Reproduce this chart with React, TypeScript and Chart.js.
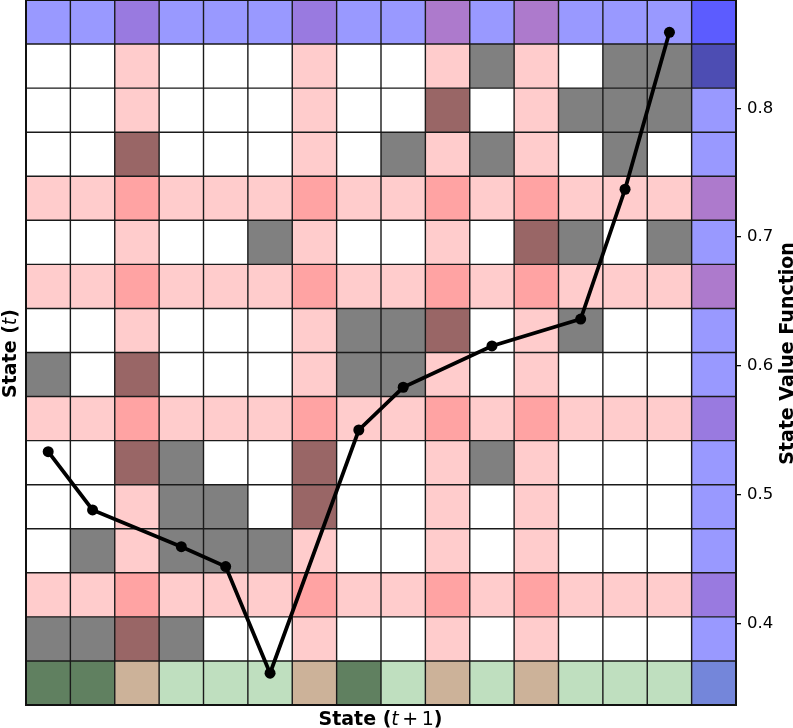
import React, { useEffect, useRef } from "react";
import { Chart, registerables } from "chart.js";

Chart.register(...registerables);

// ---- data ----
const stateIndices = [0, 1, 2, 3, 4, 5, 6, 7, 8, 9, 10, 11, 12, 13, 14, 15];

// cell codes per row (top row first), one char per column
const cellRows = [
  "LLULLLULLMLMLLLV",
  "WWPWWWPWWPGPWGGN",
  "WWPWWWPWWBWPGGGL",
  "WWBWWWPWGPGPWGWL",
  "PPDPPPDPPDPDPPPM",
  "WWPWWGPWWPWBGWGL",
  "PPDPPPDPPDPDPPPM",
  "WWPWWWPGGBWPGWWL",
  "GWBWWWPGGPWPWWWL",
  "PPDPPPDPPDPDPPPU",
  "WWBGWWBWWPGPWWWL",
  "WWPGGWBWWPWPWWWL",
  "WGPGGGPWWPWPWWWL",
  "PPDPPPDPPDPDPPPU",
  "GGBGWWPWWPWPWWWL",
  "kkTgggTkgTgTgggC",
];

const cellPalette: Record<string, string> = {
  W: "#ffffff",
  P: "#ffcccc",
  D: "#ffa3a3",
  G: "#808080",
  B: "#996666",
  L: "#9999ff",
  V: "#5c5cff",
  N: "#4d4db3",
  U: "#997ae0",
  M: "#ad7acc",
  g: "#bfdfbf",
  k: "#608060",
  T: "#ccb299",
  C: "#7486da",
};

const valueStates = [0, 1, 3, 4, 5, 7, 8, 10, 12, 13, 14];
const stateValues = [0.5333, 0.488, 0.4595, 0.444, 0.3612, 0.5501, 0.5833, 0.6154, 0.6363, 0.7371, 0.859];

const valueTicks = [0.4, 0.5, 0.6, 0.7, 0.8];
const valueAxisMin = 0.3365;
const valueAxisMax = 0.8841;

const xLabelSegments = [
  { text: "State (", font: "bold 19px 'DejaVu Sans'", gap: 0 },
  { text: "t", font: "italic 19px 'DejaVu Sans'", gap: 0 },
  { text: "+", font: "19px 'DejaVu Sans'", gap: 3.5 },
  { text: "1", font: "19px 'DejaVu Sans'", gap: 3.5 },
  { text: ")", font: "bold 19px 'DejaVu Sans'", gap: 0 },
];
const yLabelSegments = [
  { text: "State (", font: "bold 19px 'DejaVu Sans'", gap: 0 },
  { text: "t", font: "italic 19px 'DejaVu Sans'", gap: 0 },
  { text: ")", font: "bold 19px 'DejaVu Sans'", gap: 0 },
];
const y2LabelSegments = [
  { text: "State Value Function", font: "bold 19px 'DejaVu Sans'", gap: 0 },
];

type Seg = { text: string; font: string; gap: number };

function drawSegments(ctx: CanvasRenderingContext2D, segs: Seg[], cx: number, baseline: number, rotated: boolean) {
  ctx.save();
  let total = 0;
  const widths = segs.map((s) => {
    ctx.font = s.font;
    const w = ctx.measureText(s.text).width;
    total += w + s.gap;
    return w;
  });
  if (rotated) {
    ctx.translate(baseline, cx);
    ctx.rotate(-Math.PI / 2);
  } else {
    ctx.translate(cx, baseline);
  }
  ctx.fillStyle = "#000";
  ctx.textBaseline = "alphabetic";
  ctx.textAlign = "left";
  let x = -total / 2;
  segs.forEach((s, i) => {
    x += s.gap;
    ctx.font = s.font;
    ctx.fillText(s.text, x, 0);
    x += widths[i];
  });
  ctx.restore();
}

const heatmapPlugin = {
  id: "heatmapCells",
  beforeDatasetsDraw(chart: any) {
    const { ctx, chartArea, scales } = chart;
    const xs = scales.x;
    const ys = scales.y;
    ctx.save();
    cellRows.forEach((row, r) => {
      stateIndices.forEach((c) => {
        const x0 = xs.getPixelForValue(c - 0.5);
        const x1 = xs.getPixelForValue(c + 0.5);
        const y0 = ys.getPixelForValue(r - 0.5);
        const y1 = ys.getPixelForValue(r + 0.5);
        ctx.fillStyle = cellPalette[row[c]];
        ctx.fillRect(Math.min(x0, x1), Math.min(y0, y1), Math.abs(x1 - x0), Math.abs(y1 - y0));
      });
    });
    ctx.strokeStyle = "#1a1a1a";
    ctx.lineWidth = 1.4;
    ctx.beginPath();
    stateIndices.slice(1).forEach((c) => {
      const x = xs.getPixelForValue(c - 0.5);
      ctx.moveTo(x, chartArea.top);
      ctx.lineTo(x, chartArea.bottom);
    });
    cellRows.slice(1).forEach((_, i) => {
      const y = ys.getPixelForValue(i + 0.5);
      ctx.moveTo(chartArea.left, y);
      ctx.lineTo(chartArea.right, y);
    });
    ctx.stroke();
    ctx.strokeStyle = "#111";
    ctx.lineWidth = 2;
    ctx.strokeRect(chartArea.left, chartArea.top, chartArea.right - chartArea.left, chartArea.bottom - chartArea.top);
    ctx.restore();
  },
  afterDraw(chart: any) {
    const { ctx, chartArea } = chart;
    const midX = (chartArea.left + chartArea.right) / 2;
    const midY = (chartArea.top + chartArea.bottom) / 2;
    drawSegments(ctx, xLabelSegments, midX - 0.5, 725, false);
    drawSegments(ctx, yLabelSegments, midY + 1, 15.5, true);
    drawSegments(ctx, y2LabelSegments, midY + 1, 792.5, true);
  },
};

export default function App() {
  const ref = useRef<HTMLCanvasElement>(null);
  useEffect(() => {
    if (!ref.current) return;
    const chart = new Chart(ref.current, {
      type: "line",
      data: {
        datasets: [
          {
            data: valueStates.map((s, i) => ({ x: s, y: stateValues[i] })),
            borderColor: "#000",
            backgroundColor: "#000",
            borderWidth: 3.8,
            pointRadius: 5.5,
            pointBackgroundColor: "#000",
            pointBorderWidth: 0,
            tension: 0,
            xAxisID: "x",
            yAxisID: "y2",
            clip: false as any,
          },
        ],
      },
      options: {
        responsive: false,
        animation: false,
        devicePixelRatio: 1,
        layout: { autoPadding: false, padding: { left: 26, top: 0, bottom: 23, right: 0 } },
        plugins: { legend: { display: false }, tooltip: { enabled: false } },
        scales: {
          x: { type: "linear", display: false, min: -0.5, max: 15.5 },
          y: { type: "linear", display: false, min: -0.5, max: 15.5, reverse: true, position: "left" },
          y2: {
            type: "linear",
            position: "right",
            min: valueAxisMin,
            max: valueAxisMax,
            border: { display: false },
            grid: { drawOnChartArea: false, drawTicks: true, tickLength: 5, color: "#000", lineWidth: 1.3 },
            ticks: {
              color: "#000",
              padding: 6,
              font: { family: "'DejaVu Sans'", size: 16.5 },
              callback: (v: any) => Number(v).toFixed(1),
            },
            afterBuildTicks: (scale: any) => {
              scale.ticks = valueTicks.map((v) => ({ value: v }));
            },
            afterFit: (scale: any) => {
              scale.width = 57;
              scale.paddingTop = 0;
              scale.paddingBottom = 0;
            },
          },
        },
      } as any,
      plugins: [heatmapPlugin],
    });
    return () => chart.destroy();
  }, []);
  return (
    <div style={{ position: "absolute", left: 0, top: 0, width: 793, height: 728, background: "#fff" }}>
      <canvas ref={ref} width={793} height={728} style={{ display: "block", width: 793, height: 728 }} />
    </div>
  );
}
